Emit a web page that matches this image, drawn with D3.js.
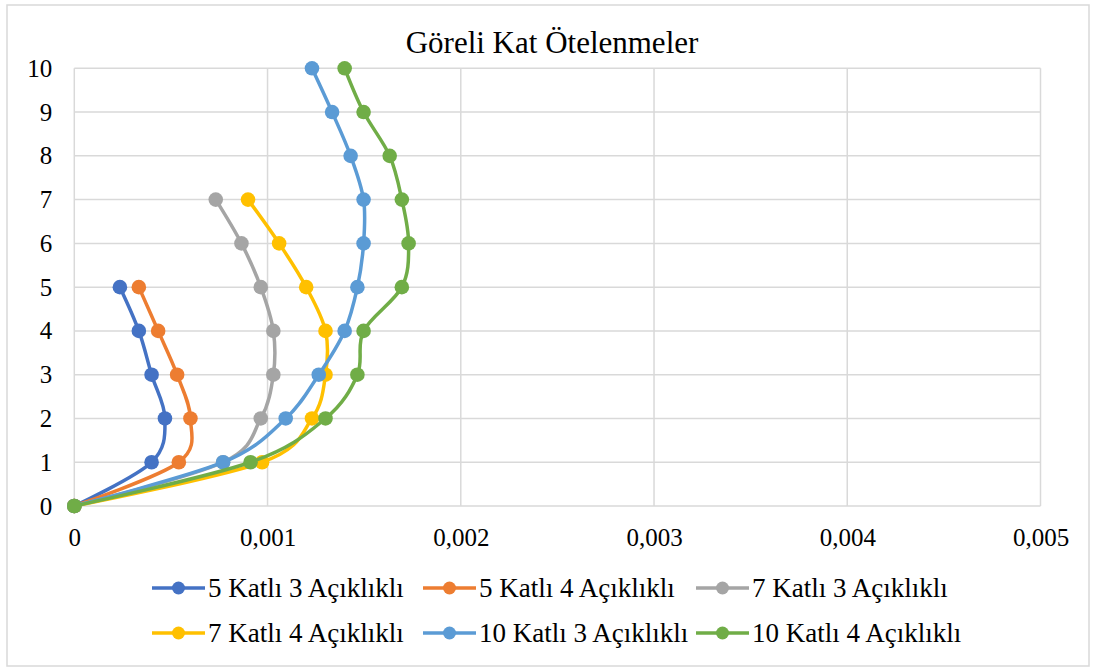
<!DOCTYPE html>
<html>
<head>
<meta charset="utf-8">
<script src="https://cdn.jsdelivr.net/npm/d3@7"></script>
<style>
  html, body { margin: 0; padding: 0; background: #fff; }
</style>
</head>
<body>
<svg id="chart" width="1094" height="668"></svg>
<script>
// Storey levels (kat) and relative storey drift of each frame
const floors5  = [0, 1, 2, 3, 4, 5];
const floors7  = [0, 1, 2, 3, 4, 5, 6, 7];
const floors10 = [0, 1, 2, 3, 4, 5, 6, 7, 8, 9, 10];

const drift5k3  = [0, 0.000400, 0.000469, 0.000400, 0.000334, 0.000236];
const drift5k4  = [0, 0.000541, 0.000601, 0.000532, 0.000434, 0.000334];
const drift7k3  = [0, 0.000770, 0.000965, 0.001030, 0.001030, 0.000965, 0.000865, 0.000732];
const drift7k4  = [0, 0.000972, 0.001230, 0.001300, 0.001300, 0.001200, 0.001060, 0.000899];
const drift10k3 = [0, 0.000770, 0.001094, 0.001265, 0.001399, 0.001465, 0.001497, 0.001497, 0.001430, 0.001334, 0.001230];
const drift10k4 = [0, 0.000912, 0.001300, 0.001465, 0.001497, 0.001695, 0.001730, 0.001695, 0.001632, 0.001497, 0.001399];

const seriesNames = ["5 Katlı 3 Açıklıklı", "5 Katlı 4 Açıklıklı", "7 Katlı 3 Açıklıklı",
                     "7 Katlı 4 Açıklıklı", "10 Katlı 3 Açıklıklı", "10 Katlı 4 Açıklıklı"];
const seriesColors = ["#4472C4", "#ED7D31", "#A5A5A5", "#FFC000", "#5B9BD5", "#70AD47"];

const xTicks = [0, 0.001, 0.002, 0.003, 0.004, 0.005];
const xTickLabels = ["0", "0,001", "0,002", "0,003", "0,004", "0,005"];
const yTicks = [0, 1, 2, 3, 4, 5, 6, 7, 8, 9, 10];

const chartTitle = "Göreli Kat Ötelenmeler";

const FONT = "'Liberation Serif', 'Times New Roman', serif";

const series = [
  { floors: floors5,  drift: drift5k3 },
  { floors: floors5,  drift: drift5k4 },
  { floors: floors7,  drift: drift7k3 },
  { floors: floors7,  drift: drift7k4 },
  { floors: floors10, drift: drift10k3 },
  { floors: floors10, drift: drift10k4 }
].map((s, i) => ({
  name: seriesNames[i],
  color: seriesColors[i],
  points: s.floors.map((f, j) => ({ x: s.drift[j], y: f }))
}));

const svg = d3.select("#chart");
const gridColor = "#d9d9d9";

// chart frame
svg.append("rect")
  .attr("x", 7).attr("y", 5).attr("width", 1082).attr("height", 661)
  .attr("fill", "#fff").attr("stroke", gridColor).attr("stroke-width", 1.5);

const plot = { left: 74.3, right: 1040.5, top: 68.3, bottom: 506 };

const x = d3.scaleLinear().domain([0, 0.005]).range([plot.left, plot.right]);
const y = d3.scaleLinear().domain([0, 10]).range([plot.bottom, plot.top]);

// gridlines
const grid = svg.append("g");
grid.selectAll("line.h").data(yTicks).join("line")
  .attr("x1", plot.left).attr("x2", plot.right)
  .attr("y1", d => y(d)).attr("y2", d => y(d))
  .attr("stroke", gridColor).attr("stroke-width", 1.5);
grid.selectAll("line.v").data(xTicks).join("line")
  .attr("x1", d => x(d)).attr("x2", d => x(d))
  .attr("y1", plot.top).attr("y2", plot.bottom)
  .attr("stroke", gridColor).attr("stroke-width", 1.5);

// axes (labels only; the grid provides the lines)
const xAxis = d3.axisBottom(x).tickValues(xTicks)
  .tickFormat((d, i) => xTickLabels[i]).tickSize(0).tickPadding(22);
svg.append("g").attr("transform", `translate(0,${plot.bottom})`).call(xAxis)
  .attr("font-family", null).attr("font-size", null)
  .call(g => g.select(".domain").remove())
  .call(g => g.selectAll("text").style("font-size", "25px")
    .style("font-family", FONT).attr("fill", "#000"));

const yAxis = d3.axisLeft(y).tickValues(yTicks).tickSize(0).tickPadding(22);
svg.append("g").attr("transform", `translate(${plot.left},0)`).call(yAxis)
  .attr("font-family", null).attr("font-size", null)
  .call(g => g.select(".domain").remove())
  .call(g => g.selectAll("text").style("font-size", "25px")
    .style("font-family", FONT).attr("fill", "#000"));

// title
svg.append("text")
  .attr("x", 552).attr("y", 53)
  .attr("text-anchor", "middle")
  .style("font-family", FONT)
  .style("font-size", "31px")
  .attr("fill", "#000")
  .text(chartTitle);

// smoothed series lines with markers
const line = d3.line()
  .x(d => x(d.x)).y(d => y(d.y))
  .curve(d3.curveCatmullRom.alpha(0));

const seriesG = svg.append("g");
series.forEach(s => {
  const g = seriesG.append("g");
  g.append("path")
    .attr("d", line(s.points))
    .attr("fill", "none")
    .attr("stroke", s.color)
    .attr("stroke-width", 3.5)
    .attr("stroke-linejoin", "round")
    .attr("stroke-linecap", "round");
  g.selectAll("circle").data(s.points).join("circle")
    .attr("cx", d => x(d.x)).attr("cy", d => y(d.y))
    .attr("r", 7.3)
    .attr("fill", s.color);
});

// legend: two rows of three entries
const legendCols = [152, 423, 696];
const legendRows = [588, 633];
const legend = svg.append("g");
series.forEach((s, i) => {
  const lx = legendCols[i % 3];
  const ly = legendRows[Math.floor(i / 3)];
  const g = legend.append("g").attr("transform", `translate(${lx},${ly})`);
  g.append("line").attr("x1", 0).attr("x2", 53).attr("y1", 0).attr("y2", 0)
    .attr("stroke", s.color).attr("stroke-width", 3.5);
  g.append("circle").attr("cx", 26.5).attr("cy", 0).attr("r", 6.5).attr("fill", s.color);
  g.append("text").attr("x", 56).attr("y", 0).attr("dy", "0.35em")
    .style("font-family", FONT)
    .style("font-size", "27px")
    .attr("fill", "#000")
    .text(s.name);
});
</script>
</body>
</html>
